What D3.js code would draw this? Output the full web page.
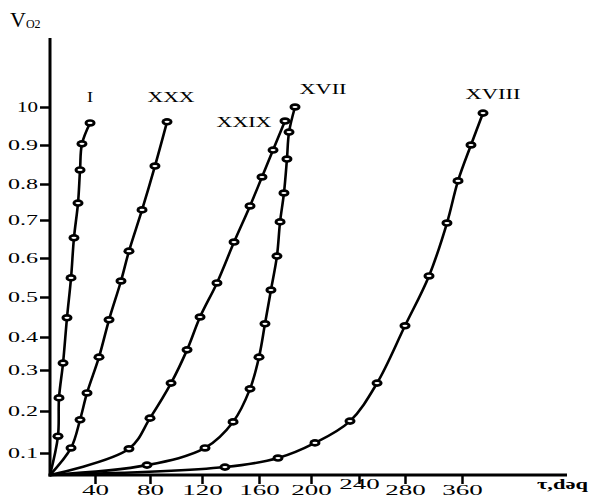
<!DOCTYPE html>
<html>
<head>
<meta charset="utf-8">
<script src="https://cdn.jsdelivr.net/npm/d3@7"></script>
<style>
  body { margin: 0; background: #fff; }
  text { font-family: "Liberation Serif", "Times New Roman", serif; fill: #000; }
</style>
</head>
<body>
<script>
// tick values as printed on the chart
const xTicks = [40, 80, 120, 160, 200, 240, 280, 360]
const yTicks = [0.1, 0.2, 0.3, 0.4, 0.5, 0.6, 0.7, 0.8, 0.9, 1.0]
const yTickLabels = ["0.1", "0.2", "0.3", "0.4", "0.5", "0.6", "0.7", "0.8", "0.9", "10"]

const seriesNames = ["I", "XXX", "XXIX", "XVII", "XVIII"]

// τ (x) and V (y) of every marker
const tauI = [7.1, 8.0, 11.6, 15.1, 18.7, 21.3, 24.9, 26.7, 28.4, 35.6]
const vI = [0.140, 0.232, 0.321, 0.448, 0.549, 0.653, 0.747, 0.836, 0.903, 0.958]

const tauXXX = [18.7, 26.7, 32.9, 42.9, 50.2, 58.9, 64.7, 74.2, 83.8, 93.1]
const vXXX = [0.112, 0.179, 0.244, 0.339, 0.443, 0.541, 0.618, 0.728, 0.846, 0.961]

const tauXXIX = [64.7, 80, 96.2, 108.5, 118.5, 130.5, 142.5, 153.7, 162.3, 170.8, 180]
const vXXIX = [0.110, 0.183, 0.268, 0.361, 0.450, 0.536, 0.642, 0.739, 0.818, 0.887, 0.963]

const tauXVII = [77.8, 122.1, 141.8, 153.7, 160, 164.6, 169.2, 173.8, 176.2, 179.2, 181.5, 183.1, 187.7]
const vXVII = [0.045, 0.112, 0.174, 0.254, 0.339, 0.433, 0.518, 0.605, 0.695, 0.775, 0.864, 0.934, 1.0]

const tauXVIII = [136.1, 174.6, 203.3, 232.5, 255.7, 280, 313.7, 338.9, 354.4, 372.6, 389.5]
const vXVIII = [0.036, 0.077, 0.124, 0.176, 0.268, 0.428, 0.554, 0.692, 0.808, 0.900, 0.984]

const seriesTau = [tauI, tauXXX, tauXXIX, tauXVII, tauXVIII]
const seriesV = [vI, vXXX, vXXIX, vXVII, vXVIII]

const width = 590
const height = 501

const svg = d3.select("body").append("svg")
    .attr("width", width)
    .attr("height", height)
    .attr("xmlns", "http://www.w3.org/2000/svg")

// the printed axes are not evenly spaced, so both scales are piecewise
const x = d3.scaleLinear()
    .domain([0].concat(xTicks))
    .range([50, 95, 150, 202, 259, 311, 359, 405, 462])

const y = d3.scaleLinear()
    .domain([0].concat(yTicks))
    .range([475, 453, 411, 370, 337, 297, 258, 220, 184, 145, 107])

// curves, every one starting from the origin
const line = d3.line()
    .x(d => x(d[0]))
    .y(d => y(d[1]))
    .curve(d3.curveCatmullRom.alpha(0.5))

seriesNames.forEach((name, i) => {
  const pts = [[0, 0]].concat(seriesTau[i].map((t, j) => [t, seriesV[i][j]]))
  svg.append("path")
      .attr("d", line(pts))
      .attr("fill", "none")
      .attr("stroke", "#000")
      .attr("stroke-width", 2.6)
})

// axes
const xAxis = svg.append("g")
    .attr("transform", `translate(0,${y(0)})`)
    .call(d3.axisBottom(x).tickValues(xTicks).tickSize(9).tickFormat(d3.format("d")))
xAxis.select(".domain").remove()
xAxis.selectAll(".tick line").attr("stroke", "#000").attr("stroke-width", 2.5)
xAxis.selectAll(".tick text")
    .attr("y", d => d === 240 ? 14 : 20)
    .attr("dy", 0)
    .attr("font-size", 15)
    .attr("font-family", "Liberation Serif")
    .attr("fill", "#000")
    .attr("textLength", d => String(d).length * 13.5)
    .attr("lengthAdjust", "spacingAndGlyphs")

const yAxis = svg.append("g")
    .attr("transform", `translate(${x(0)},0)`)
    .call(d3.axisLeft(y).tickValues(yTicks).tickSize(10).tickFormat((d, i) => yTickLabels[i]))
yAxis.select(".domain").remove()
yAxis.selectAll(".tick line").attr("stroke", "#000").attr("stroke-width", 2.5)
yAxis.selectAll(".tick text")
    .attr("x", -12)
    .attr("dy", "0.32em")
    .attr("font-size", 14)
    .attr("font-family", "Liberation Serif")
    .attr("fill", "#000")
    .attr("textLength", (d, i) => yTickLabels[i].length === 2 ? 21 : 30)
    .attr("lengthAdjust", "spacingAndGlyphs")

svg.append("line")
    .attr("x1", x(0)).attr("x2", x(0))
    .attr("y1", 38).attr("y2", y(0) + 1.5)
    .attr("stroke", "#000").attr("stroke-width", 3)

svg.append("line")
    .attr("x1", x(0) - 1.5).attr("x2", 567)
    .attr("y1", y(0)).attr("y2", y(0))
    .attr("stroke", "#000").attr("stroke-width", 3)

// markers
seriesNames.forEach((name, i) => {
  const g = svg.append("g")
  const pts = seriesTau[i].map((t, j) => [t, seriesV[i][j]])
  g.selectAll("ellipse.outer").data(pts).enter().append("ellipse")
      .attr("class", "outer")
      .attr("cx", d => x(d[0]))
      .attr("cy", d => y(d[1]))
      .attr("rx", 5.5)
      .attr("ry", 3.8)
      .attr("fill", "#000")
  g.selectAll("ellipse.inner").data(pts).enter().append("ellipse")
      .attr("class", "inner")
      .attr("cx", d => x(d[0]))
      .attr("cy", d => y(d[1]))
      .attr("rx", 2.6)
      .attr("ry", 1.1)
      .attr("fill", "#fff")
})

// curve names
const labelLayout = [
  { x: 90, y: 102, w: 6 },
  { x: 171, y: 102, w: 47 },
  { x: 244, y: 127, w: 55 },
  { x: 323, y: 94, w: 47 },
  { x: 493, y: 99, w: 55 }
]
seriesNames.forEach((name, i) => {
  svg.append("text")
      .attr("x", labelLayout[i].x)
      .attr("y", labelLayout[i].y)
      .attr("text-anchor", "middle")
      .attr("font-size", 15)
      .attr("textLength", labelLayout[i].w)
      .attr("lengthAdjust", "spacingAndGlyphs")
      .text(name)
})

// axis titles
const vTitle = svg.append("text")
    .attr("x", 10)
    .attr("y", 27)
    .attr("font-size", 22)
vTitle.append("tspan").text("V")
vTitle.append("tspan")
    .attr("font-size", 12)
    .attr("dy", 1)
    .text("O2")

svg.append("text")
    .attr("x", 537)
    .attr("y", 489)
    .attr("font-size", 15)
    .attr("font-weight", "bold")
    .attr("textLength", 51)
    .attr("lengthAdjust", "spacingAndGlyphs")
    .text("τ,dəq")
</script>
</body>
</html>
